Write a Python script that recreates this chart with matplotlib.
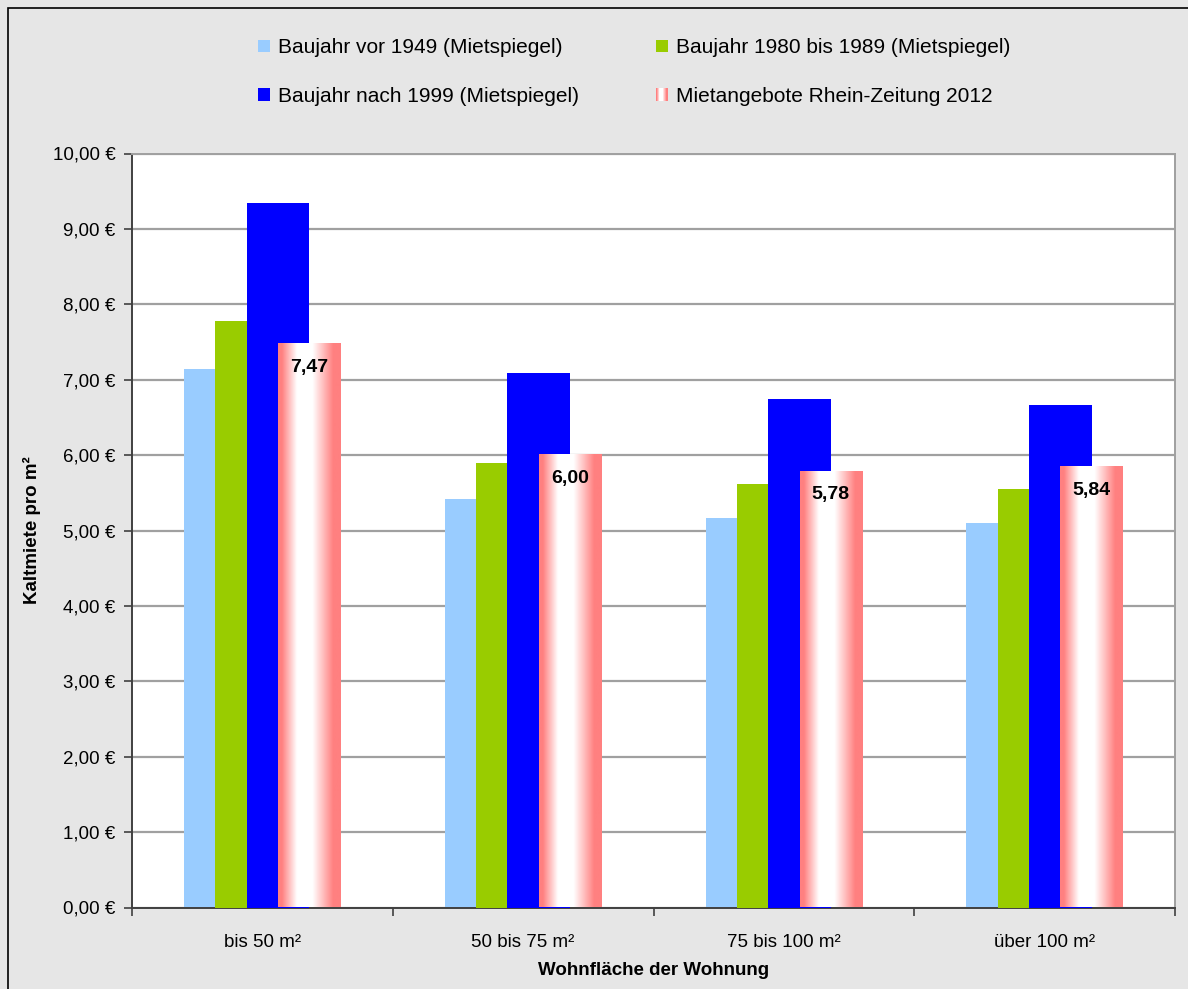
import numpy as np
import matplotlib.pyplot as plt
from matplotlib.colors import LinearSegmentedColormap
from matplotlib.patches import Rectangle
from matplotlib.legend_handler import HandlerBase

categories = ['bis 50 m²', '50 bis 75 m²', '75 bis 100 m²', 'über 100 m²']
vor_1949 = [7.14, 5.42, 5.17, 5.10]
bj_1980_1989 = [7.78, 5.90, 5.62, 5.55]
nach_1999 = [9.35, 7.09, 6.74, 6.66]
rz_2012 = [7.47, 6.00, 5.78, 5.84]
y_ticks = [0, 1, 2, 3, 4, 5, 6, 7, 8, 9, 10]

labels = ['Baujahr vor 1949 (Mietspiegel)',
          'Baujahr 1980 bis 1989 (Mietspiegel)',
          'Baujahr nach 1999 (Mietspiegel)',
          'Mietangebote Rhein-Zeitung 2012']
colors = ['#99CCFF', '#99CC00', '#0000FF']
salmon = '#FF8080'

plt.rcParams['font.family'] = ['Liberation Sans', 'DejaVu Sans']

grad = LinearSegmentedColormap.from_list(
    'rz', [(0, salmon), (0.06, salmon), (0.3, 'white'), (0.55, 'white'),
           (0.88, salmon), (1, salmon)])


class GradientHandler(HandlerBase):
    def create_artists(self, legend, orig_handle, xdescent, ydescent,
                       width, height, fontsize, trans):
        n = 12
        out = []
        for i in range(n):
            c = grad((i + 0.5) / n)
            out.append(Rectangle((-xdescent + width * i / n, -ydescent),
                                 width / n + 0.1, height, facecolor=c,
                                 edgecolor='none', transform=trans))
        return out


fig = plt.figure(figsize=(11.88, 9.89), dpi=100, facecolor='#E6E6E6')
ax = fig.add_axes([132 / 1188, 1 - 907.5 / 989, 1043 / 1188, 754 / 989])
ax.set_facecolor('white')

x = np.arange(len(categories))
w = 0.24
step = 0.12
handles = []
for i, (vals, col) in enumerate(zip([vor_1949, bj_1980_1989, nach_1999], colors)):
    b = ax.bar(x + (i - 1.5) * step, vals, w, color=col, zorder=2 + i, label=labels[i])
    handles.append(b)

# Rhein-Zeitung bars with horizontal gradient
for xi, v in zip(x + 1.5 * step, rz_2012):
    img = np.linspace(0, 1, 200).reshape(1, -1)
    ax.imshow(img, cmap=grad, aspect='auto', extent=[xi - w / 2, xi + w / 2, 0, v],
              zorder=6, interpolation='bilinear')
    ax.annotate(f'{v:.2f}'.replace('.', ','), xy=(xi, v), xytext=(0, -16.5),
                textcoords='offset points', ha='center', va='center',
                fontsize=14, fontweight='bold', zorder=7)
rz_handle = Rectangle((0, 0), 1, 1)

ax.set_xlim(-0.5, len(categories) - 0.5)
ax.set_ylim(0, 10)
ax.set_yticks(y_ticks)
ax.set_yticklabels([f'{t:.2f} €'.replace('.', ',') for t in y_ticks], fontsize=13.5)
ax.set_xticks(x)
ax.set_xticklabels(categories, fontsize=13.5)
ax.set_xticks(np.arange(len(categories) + 1) - 0.5, minor=True)
ax.tick_params(axis='x', which='major', length=0, pad=19)
ax.tick_params(axis='x', which='minor', length=6, width=1.2, color='#404040')
ax.tick_params(axis='y', length=6, width=1.2, color='#404040', pad=6)

ax.yaxis.grid(True, color='#A0A0A0', linewidth=1.6)
ax.set_axisbelow(True)
for s in ['left', 'bottom']:
    ax.spines[s].set_color('#404040')
    ax.spines[s].set_linewidth(1.4)
for s in ['top', 'right']:
    ax.spines[s].set_color('#A0A0A0')
    ax.spines[s].set_linewidth(1.4)

ax.set_xlabel('Wohnfläche der Wohnung', fontsize=13.5, fontweight='bold', labelpad=8)
ax.set_ylabel('Kaltmiete pro m²', fontsize=13.5, fontweight='bold', labelpad=8)

order = [handles[0], handles[2], handles[1], rz_handle]
order_labels = [labels[0], labels[2], labels[1], labels[3]]
fig.legend(order, order_labels, ncol=2, loc='center', bbox_to_anchor=(634 / 1188, 1 - 72 / 989),
           frameon=False, fontsize=15, handlelength=0.6, handleheight=0.55,
           handletextpad=0.35, labelspacing=1.42, columnspacing=3.7,
           handler_map={rz_handle: GradientHandler()})

fig.patches.append(Rectangle((7.5 / 1188, -0.05), 1.2, 1 - 7.5 / 989 + 0.05,
                             transform=fig.transFigure, fill=False,
                             edgecolor='black', linewidth=1.2))

fig.savefig('out.png', dpi=100, facecolor=fig.get_facecolor())
